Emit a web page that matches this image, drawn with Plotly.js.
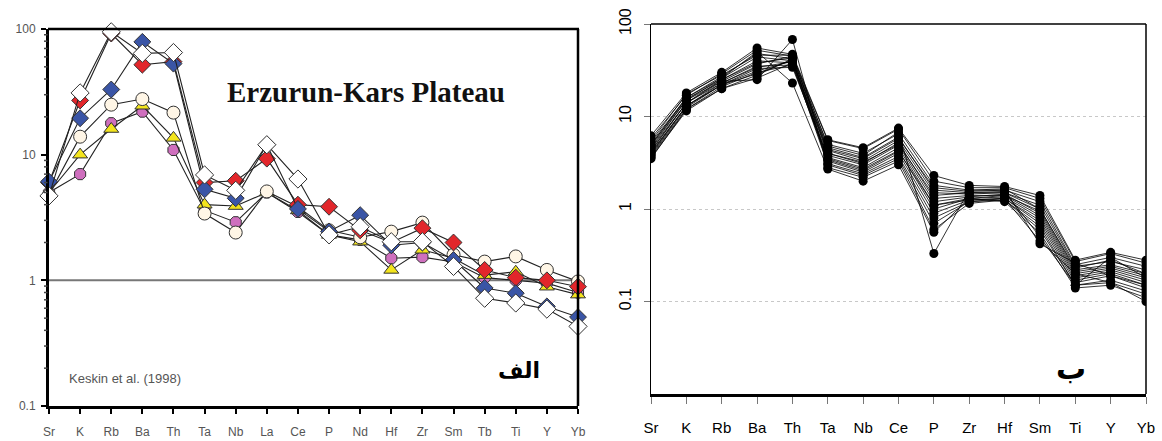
<!DOCTYPE html>
<html>
<head>
<meta charset="utf-8">
<script src="https://cdn.plot.ly/plotly-3.0.1.min.js"></script>
<style>
  html, body { margin: 0; padding: 0; background: #fff; }
  #chart { width: 1162px; height: 441px; }
</style>
</head>
<body>
<div id="chart"></div>
<script>
// ---- Panel A: Erzurum-Kars Plateau spider diagram (Keskin et al., 1998) ----
const elementsA = ['Sr','K','Rb','Ba','Th','Ta','Nb','La','Ce','P','Nd','Hf','Zr','Sm','Tb','Ti','Y','Yb'];

const seriesRed    = [6.0, 27, 92, 52, 55, 6.0, 6.2, 9.3, 4.0, 3.85, 2.5, 2.0, 2.6, 2.0, 1.21, 1.05, 1.0, 0.89];
const seriesBlue   = [6.1, 19.5, 33, 79, 53, 5.3, 4.5, 12, 3.7, 2.45, 3.3, 1.9, 2.0, 1.45, 0.87, 0.79, 0.62, 0.51];
const seriesCream  = [4.8, 13.9, 25, 27.7, 21.6, 3.4, 2.4, 5.1, 3.85, 2.5, 2.2, 2.44, 2.88, 1.6, 1.41, 1.55, 1.21, 0.98];
const seriesYellow = [5.0, 10, 16, 24.5, 13.6, 4.0, 3.9, 5.0, 3.6, 2.3, 2.03, 1.21, 1.75, 1.5, 1.1, 1.17, 0.89, 0.77];
const seriesPink   = [5.0, 7.0, 17.8, 22, 10.9, 3.6, 2.9, 5.0, 3.5, 2.3, 2.1, 1.5, 1.53, 1.4, 1.05, 1.0, 0.95, 0.8];
const seriesWhite  = [4.7, 31, 95, 64, 65, 6.9, 5.2, 12, 6.4, 2.3, 2.67, 2.03, 2.03, 1.29, 0.72, 0.66, 0.59, 0.43];

// ---- Panel B: normalised trace-element patterns of the studied samples ----
const elementsB = ['Sr','K','Rb','Ba','Th','Ta','Nb','Ce','P','Zr','Hf','Sm','Ti','Y','Yb'];

const sample01 = [5.8, 17, 29, 52, 45, 5.5, 4.5, 7.3, 2.0, 1.7, 1.7, 1.3, 0.27, 0.33, 0.26];
const sample02 = [5.2, 16, 27, 48, 42, 5.0, 4.0, 6.5, 1.8, 1.6, 1.6, 1.2, 0.25, 0.30, 0.24];
const sample03 = [4.8, 15, 26, 44, 40, 4.6, 3.6, 6.0, 1.6, 1.5, 1.5, 1.1, 0.24, 0.27, 0.22];
const sample04 = [4.5, 14, 25, 40, 38, 4.3, 3.3, 5.5, 1.5, 1.45, 1.5, 1.0, 0.22, 0.25, 0.20];
const sample05 = [4.3, 14, 24, 37, 45, 4.0, 3.1, 5.2, 1.3, 1.4, 1.4, 0.95, 0.21, 0.24, 0.19];
const sample06 = [4.1, 13, 23, 35, 36, 3.8, 3.0, 4.9, 1.2, 1.35, 1.45, 0.9, 0.20, 0.23, 0.18];
const sample07 = [4.0, 13, 22, 33, 34, 3.6, 2.8, 4.6, 1.1, 1.3, 1.4, 0.85, 0.19, 0.22, 0.17];
const sample08 = [3.8, 12.5, 22, 31, 40, 3.5, 2.7, 4.3, 1.0, 1.3, 1.35, 0.8, 0.18, 0.21, 0.16];
const sample09 = [3.7, 12, 21, 30, 36, 3.3, 2.5, 4.0, 0.9, 1.25, 1.3, 0.75, 0.17, 0.20, 0.15];
const sample10 = [3.5, 12, 20, 28, 42, 3.1, 2.4, 3.7, 0.8, 1.2, 1.3, 0.7, 0.16, 0.19, 0.14];
const sample11 = [3.6, 11.5, 20, 26, 38, 3.0, 2.3, 3.5, 0.7, 1.2, 1.25, 0.65, 0.15, 0.17, 0.13];
const sample12 = [4.6, 15, 24, 25, 68, 2.8, 2.2, 3.3, 0.6, 1.15, 1.25, 0.6, 0.15, 0.16, 0.12];
const sample13 = [4.9, 16, 26, 50, 23, 2.7, 2.0, 3.0, 0.56, 1.3, 1.2, 0.55, 0.14, 0.15, 0.11];
const sample14 = [5.4, 17.5, 28, 46, 46, 4.8, 3.8, 6.8, 0.33, 1.6, 1.65, 1.0, 0.23, 0.28, 0.20];
const sample15 = [4.2, 14, 23, 34, 39, 4.0, 3.2, 5.0, 1.4, 1.5, 1.55, 0.5, 0.15, 0.30, 0.18];
const sample16 = [3.9, 13, 22, 29, 41, 3.4, 2.6, 4.2, 1.1, 1.25, 1.3, 0.45, 0.20, 0.16, 0.10];
const sample17 = [5.0, 15.5, 25, 38, 43, 4.4, 3.5, 5.8, 1.7, 1.55, 1.6, 0.42, 0.26, 0.19, 0.15];
const sample18 = [6.2, 18, 30, 55, 47, 5.6, 4.6, 7.5, 2.3, 1.8, 1.75, 1.4, 0.28, 0.34, 0.28];

const samplesB = [sample01, sample02, sample03, sample04, sample05, sample06, sample07, sample08, sample09,
                  sample10, sample11, sample12, sample13, sample14, sample15, sample16, sample17, sample18];

// ---- page geometry (pixels) ----
const W = 1162, H = 441;
const px = v => v / W;
const py = v => 1 - v / H;

function seriesA(values, symbol, fill, size) {
  return {
    x: elementsA, y: values, xaxis: 'x', yaxis: 'y',
    type: 'scatter', mode: 'lines+markers', cliponaxis: false,
    line: { color: '#222', width: 1.1 },
    marker: { symbol: symbol, size: size, color: fill, line: { color: '#333', width: 1 } },
    hoverinfo: 'skip'
  };
}

const traces = [
  seriesA(seriesPink,   'octagon',     '#cf6fbe', 12),
  seriesA(seriesYellow, 'triangle-up', '#f3e41c', 13),
  seriesA(seriesCream,  'circle',      '#fff6e6', 13),
  seriesA(seriesRed,    'diamond',     '#e2262b', 13),
  seriesA(seriesBlue,   'diamond',     '#3a55a6', 13),
  seriesA(seriesWhite,  'diamond',     '#ffffff', 14)
];

samplesB.forEach(s => traces.push({
  x: elementsB, y: s, xaxis: 'x2', yaxis: 'y2',
  type: 'scatter', mode: 'lines+markers', cliponaxis: true,
  line: { color: '#000', width: 0.8 },
  marker: { symbol: 'circle', size: 9, color: '#000' },
  hoverinfo: 'skip'
}));

// small intermediate ticks (2..9 within each decade) on the left axis of panel A
const minorShapes = [];
[0.1, 1, 10].forEach(d => {
  for (let k = 2; k <= 9; k++) {
    const v = d * k;
    minorShapes.push({ type: 'line', xref: 'paper', yref: 'y', x0: px(44), x1: px(47.5), y0: v, y1: v,
                       line: { color: '#444', width: 1.5 } });
  }
});

const layout = {
  width: W, height: H,
  margin: { l: 0, r: 0, t: 0, b: 0 },
  paper_bgcolor: '#fff', plot_bgcolor: '#fff',
  showlegend: false,
  xaxis: {
    domain: [px(49), px(578)], anchor: 'y',
    type: 'category', range: [0, elementsA.length - 1],
    showline: true, linecolor: '#000', linewidth: 3,
    ticks: 'outside', ticklen: 5, tickwidth: 2, tickcolor: '#000',
    showgrid: false, zeroline: false,
    tickfont: { family: 'Arial, Liberation Sans, sans-serif', size: 12, color: '#555' },
    ticklabelstandoff: 8
  },
  yaxis: {
    domain: [py(406), py(29)], anchor: 'x',
    type: 'log', range: [-1, 2],
    tickvals: [0.1, 1, 10, 100], ticktext: ['0.1', '1', '10', '100'],
    showline: true, linecolor: '#000', linewidth: 3,
    ticks: 'outside', ticklen: 5, tickwidth: 2, tickcolor: '#000',
    showgrid: false, zeroline: false,
    tickfont: { family: 'Arial, Liberation Sans, sans-serif', size: 12, color: '#555' },
    ticklabelstandoff: 3
  },
  xaxis2: {
    domain: [px(651), px(1146)], anchor: 'y2',
    type: 'category', range: [0, elementsB.length - 1],
    showline: true, linecolor: '#000', linewidth: 2.5,
    ticks: 'outside', ticklen: 7, tickwidth: 1, tickcolor: '#777',
    showgrid: false, zeroline: false,
    tickfont: { family: 'Arial, Liberation Sans, sans-serif', size: 15, color: '#000' },
    ticklabelstandoff: 11
  },
  yaxis2: {
    domain: [py(394), py(24)], anchor: 'x2',
    type: 'log', range: [-2, 2],
    tickvals: [0.1, 1, 10, 100], ticktext: ['0.1', '1', '10', '100'],
    tickangle: -90,
    showline: true, linecolor: '#000', linewidth: 1.5,
    ticks: 'outside', ticklen: 6, tickwidth: 1, tickcolor: '#777',
    showgrid: true, gridcolor: '#c8c8c8', griddash: 'dot', gridwidth: 1,
    zeroline: false,
    tickfont: { family: 'Arial, Liberation Sans, sans-serif', size: 16, color: '#000' },
    ticklabelstandoff: 6
  },
  shapes: [
    // frame of panel A (top and right edges)
    { type: 'line', xref: 'paper', yref: 'paper', x0: px(48), x1: px(579), y0: py(29), y1: py(29), line: { color: '#000', width: 2.5 } },
    { type: 'line', xref: 'paper', yref: 'paper', x0: px(578), x1: px(578), y0: py(29), y1: py(406), line: { color: '#000', width: 2.5 } },
    // unit reference line in panel A
    { type: 'line', xref: 'x domain', yref: 'y', x0: 0, x1: 1, y0: 1, y1: 1, line: { color: '#777', width: 2 }, layer: 'below' },
    // frame of panel B (top and right edges)
    { type: 'line', xref: 'paper', yref: 'paper', x0: px(651), x1: px(1146), y0: py(24), y1: py(24), line: { color: '#000', width: 1.5 } },
    { type: 'line', xref: 'paper', yref: 'paper', x0: px(1146), x1: px(1146), y0: py(24), y1: py(394), line: { color: '#000', width: 1.5 } }
  ].concat(minorShapes),
  annotations: [
    { xref: 'paper', yref: 'paper', x: px(366), y: py(92), xanchor: 'center', yanchor: 'middle',
      text: '<b>Erzurun-Kars Plateau</b>', showarrow: false,
      font: { family: 'Liberation Serif, Times New Roman, serif', size: 29, color: '#111' } },
    { xref: 'paper', yref: 'paper', x: px(67), y: py(378), xanchor: 'left', yanchor: 'middle',
      text: 'Keskin et al. (1998)', showarrow: false,
      font: { family: 'Arial, Liberation Sans, sans-serif', size: 13, color: '#555' } },
    { xref: 'paper', yref: 'paper', x: px(519), y: py(370), xanchor: 'center', yanchor: 'middle',
      text: '<b>الف</b>', showarrow: false,
      font: { family: 'DejaVu Sans, Noto Sans, sans-serif', size: 22, color: '#000' } },
    { xref: 'paper', yref: 'paper', x: px(1071), y: py(368), xanchor: 'center', yanchor: 'middle',
      text: '<b>ب</b>', showarrow: false,
      font: { family: 'DejaVu Sans, Noto Sans, sans-serif', size: 30, color: '#000' } }
  ]
};

Plotly.newPlot('chart', traces, layout, { displayModeBar: false, staticPlot: true });
</script>
</body>
</html>
